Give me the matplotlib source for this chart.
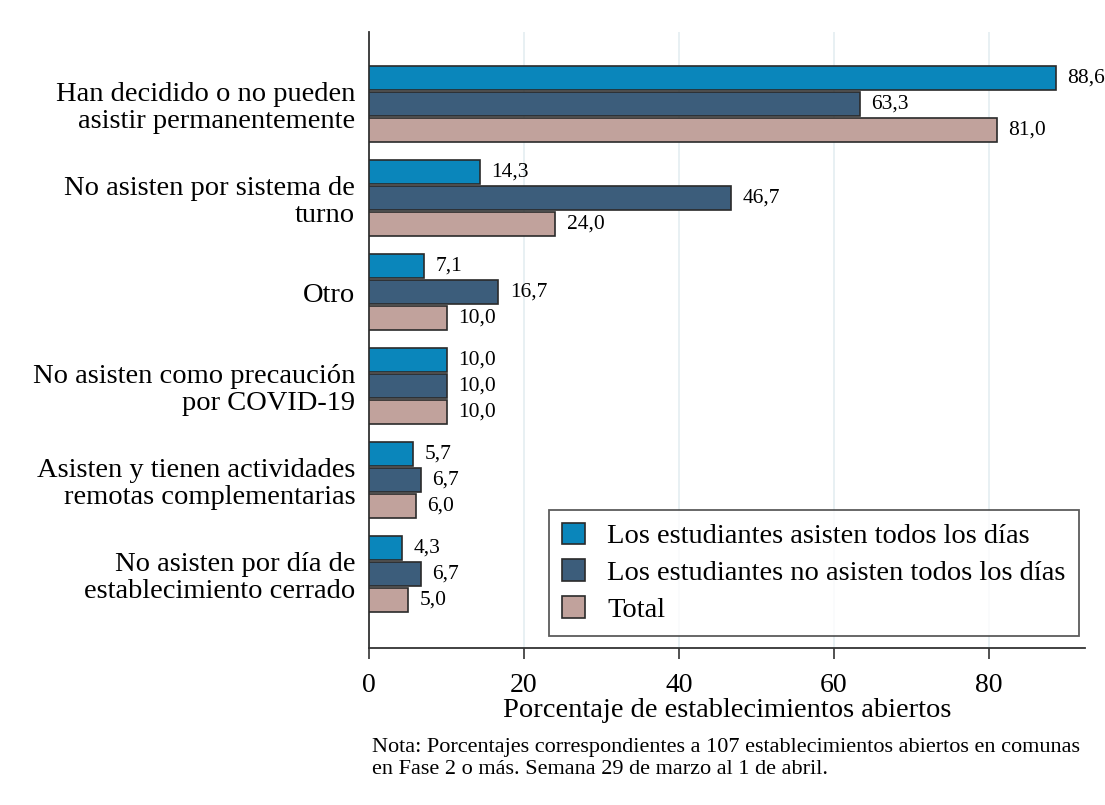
import numpy as np
import matplotlib.pyplot as plt

# data
categories = ["Han decidido o no pueden\nasistir permanentemente",
              "No asisten por sistema de\nturno",
              "Otro",
              "No asisten como precaución\npor COVID-19",
              "Asisten y tienen actividades\nremotas complementarias",
              "No asisten por día de\nestablecimiento cerrado"]
todos = [88.6, 14.3, 7.1, 10.0, 5.7, 4.3]
no_todos = [63.3, 46.7, 16.7, 10.0, 6.7, 6.7]
total = [81.0, 24.0, 10.0, 10.0, 6.0, 5.0]
series_names = ["Los estudiantes asisten todos los días",
                "Los estudiantes no asisten todos los días",
                "Total"]
colors = ["#0a86bb", "#3c5d7b", "#c1a29c"]

plt.rcParams["font.family"] = ["Liberation Serif", "DejaVu Serif"]

fig = plt.figure(figsize=(11.05, 8.05), dpi=100)
ax = fig.add_axes([0.334, 0.195, 0.648, 0.765])

ind = np.arange(len(categories))
h = 0.255
off = 0.277
for k, (vals, c, name) in enumerate(zip([todos, no_todos, total], colors, series_names)):
    ypos = ind + (k - 1) * off
    ax.barh(ypos, vals, height=h, color=c, edgecolor="#2a2a2a", linewidth=1.2,
            label=name, zorder=3)
    for y, v in zip(ypos, vals):
        ax.text(v + 1.5, y, f"{v:.1f}".replace(".", ","), va="center", ha="left",
                fontsize=15.5, clip_on=False, zorder=4)

ax.set_ylim(5.787, -0.766)
ax.set_xlim(0, 92.4)
ax.set_yticks(ind)
ax.set_yticklabels(categories, fontsize=20.5, ha="right", linespacing=1.12)
ax.tick_params(axis="y", length=0, pad=10)
ax.set_xticks([0, 20, 40, 60, 80])
ax.tick_params(axis="x", labelsize=20, length=8, width=1.2, color="#333333", pad=10)
ax.grid(axis="x", color="#e6eff2", linewidth=1.3, zorder=0)
for s in ["top", "right"]:
    ax.spines[s].set_visible(False)
for s in ["left", "bottom"]:
    ax.spines[s].set_color("#333333")
    ax.spines[s].set_linewidth(1.3)
ax.set_xlabel("Porcentaje de establecimientos abiertos", fontsize=20.5, labelpad=0)

leg = ax.legend(loc="lower right", bbox_to_anchor=(0.991, 0.02), fontsize=20.5,
                frameon=True, fancybox=False, edgecolor="#333333",
                handlelength=0.8, handleheight=0.8, handletextpad=0.8,
                labelspacing=0.35, borderpad=0.45, borderaxespad=0)
leg.get_frame().set_linewidth(1.3)

fig.text(0.337, 0.083, "Nota: Porcentajes correspondientes a 107 establecimientos abiertos en comunas\n"
         "en Fase 2 o más. Semana 29 de marzo al 1 de abril.",
         fontsize=16, ha="left", va="top", linespacing=1.2)

fig.savefig("out.png", dpi=100)
